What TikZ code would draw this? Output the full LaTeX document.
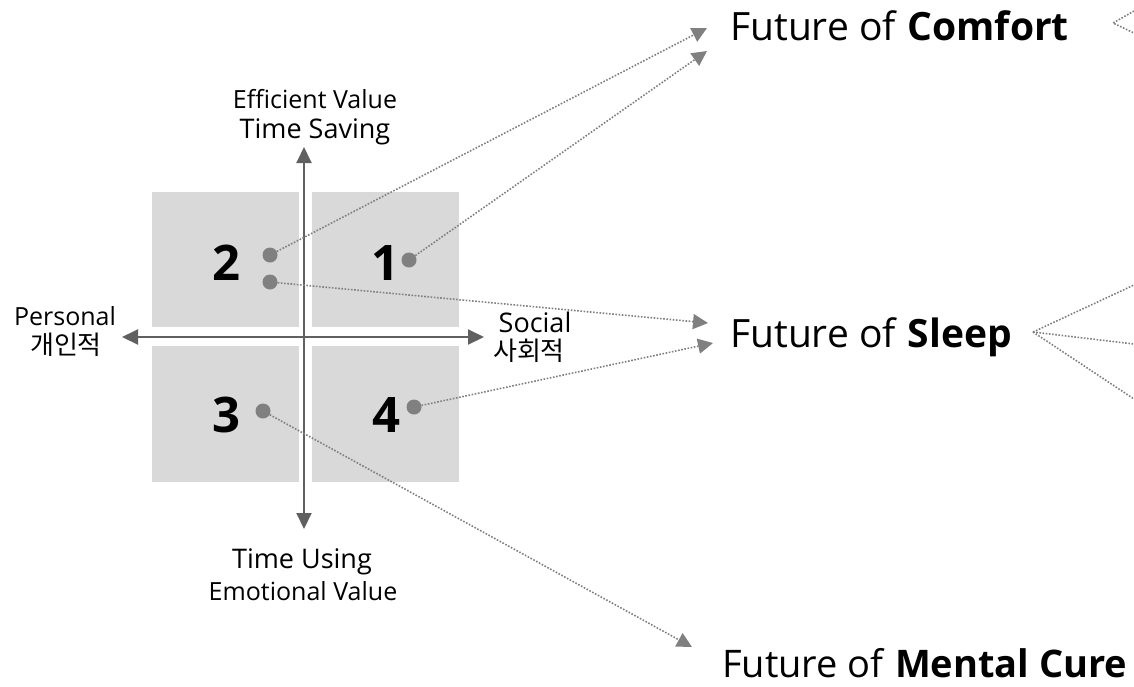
\documentclass[tikz,border=0pt]{standalone}
\usepackage{fontspec}
\setmainfont{Open Sans}
\newfontfamily\kr{Noto Sans CJK KR}
\usetikzlibrary{arrows.meta}
\definecolor{boxgray}{HTML}{D9D9D9}
\definecolor{dotgray}{HTML}{808080}
\definecolor{axisgray}{HTML}{606060}
\tikzset{
  quad/.style={fill=boxgray, draw=none},
  num/.style={font=\fontsize{49}{49}\selectfont\bfseries, anchor=base, inner sep=0},
  pt/.style={circle, fill=dotgray, minimum size=15, inner sep=0},
  axis/.style={draw=axisgray, line width=2, -{Triangle[length=16, width=15]}},
  link/.style={draw=dotgray, line width=1.6, dash pattern=on 1.6 off 1.6, -{Triangle[length=15, width=15]}},
  fan/.style={draw=dotgray, line width=1.6, dash pattern=on 1.6 off 1.6},
  title/.style={font=\fontsize{39}{39}\selectfont, anchor=base west, inner sep=0},
  lab/.style={font=\fontsize{25}{25}\selectfont, anchor=base, inner sep=0},
  labbig/.style={font=\fontsize{27}{27}\selectfont, anchor=base, inner sep=0},
  klab/.style={font=\kr\fontsize{26}{26}\selectfont, anchor=base, inner sep=0},
}
\begin{document}
\begin{tikzpicture}[x=1pt, y=-1pt]
\useasboundingbox (0,0) rectangle (1134,686);
% quadrants
\fill[quad] (152,192) rectangle (299,327);
\fill[quad] (312,192) rectangle (459,327);
\fill[quad] (152,346) rectangle (299,482);
\fill[quad] (312,346) rectangle (459,482);
% axes
\coordinate (ctr) at (304,337);
\coordinate (axT) at (304,147);
\coordinate (axB) at (304,529);
\coordinate (axL) at (122,337);
\coordinate (axR) at (484,337);
\draw[axis] (ctr) -- (axT);
\draw[axis] (ctr) -- (axB);
\draw[axis] (ctr) -- (axL);
\draw[axis] (ctr) -- (axR);
% numbers
\node[num] (n2) at (226,280) {2};
\node[num] (n1) at (385,280) {1};
\node[num] (n3) at (226,432) {3};
\node[num] (n4) at (386,432) {4};
% dots
\node[pt] (d2a) at (270,255) {};
\node[pt] (d2b) at (270,282) {};
\node[pt] (d1) at (409,260) {};
\node[pt] (d3) at (263,411) {};
\node[pt] (d4) at (414,407) {};
% axis labels
\node[lab] (lEV) at (315,108) {Efficient Value};
\node[labbig] (lTS) at (315,138) {Time Saving};
\node[labbig] (lTU) at (302,568) {Time Using};
\node[lab] (lEmV) at (303,600) {Emotional Value};
\node[lab] (lP) at (65,325) {Personal};
\node[klab] (lPk) at (66,354) {개인적};
\node[labbig] (lS) at (535,332) {Social};
\node[klab] (lSk) at (529,360) {사회적};
% titles
\node[title] (tC) at (730,40) {Future of \textbf{Comfort}};
\node[title] (tS) at (730,347) {Future of \textbf{Sleep}};
\node[title, font=\fontsize{38}{38}\selectfont, text depth=0pt] (tM) at (722,677) {Future of \textbf{Mental Cure}};
% arrow ends
\coordinate (eC1) at (707,28);
\coordinate (eC2) at (707,51);
\coordinate (eS1) at (708,323);
\coordinate (eS2) at (713,343);
\coordinate (eM) at (692,647);
\draw[link] (d2a) -- (eC1);
\draw[link] (d1) -- (eC2);
\draw[link] (d2b) -- (eS1);
\draw[link] (d4) -- (eS2);
\draw[link] (d3) -- (eM);
% fans at right edge
\coordinate (fC) at (1113,23);
\coordinate (fC1) at (1134,11);
\coordinate (fC2) at (1134,33);
\coordinate (fS) at (1033,332);
\coordinate (fS1) at (1134,285);
\coordinate (fS2) at (1134,344);
\coordinate (fS3) at (1134,399);
\draw[fan] (fC1) -- (fC) -- (fC2);
\draw[fan] (fS) -- (fS1);
\draw[fan] (fS) -- (fS2);
\draw[fan] (fS) -- (fS3);
\end{tikzpicture}
\end{document}
